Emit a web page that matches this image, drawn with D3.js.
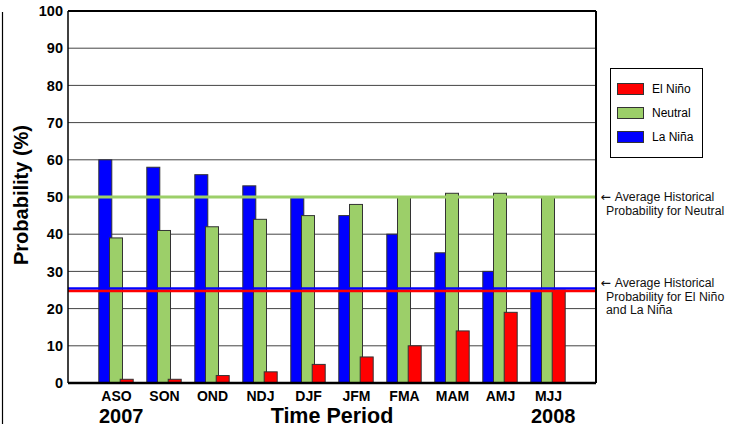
<!DOCTYPE html>
<html>
<head>
<meta charset="utf-8">
<script src="https://cdn.jsdelivr.net/npm/d3@7"></script>
<style>
  body { margin: 0; background: #fff; }
  svg { display: block; font-family: "Liberation Sans", Arial, sans-serif; }
</style>
</head>
<body>
<div id="chart"></div>
<script>
// datos
const periods = ["ASO", "SON", "OND", "NDJ", "DJF", "JFM", "FMA", "MAM", "AMJ", "MJJ"];
const laNina  = [60, 58, 56, 53, 50, 45, 40, 35, 30, 25];
const neutral = [39, 41, 42, 44, 45, 48, 50, 51, 51, 50];
const elNino  = [1, 1, 2, 3, 5, 7, 10, 14, 19, 25];
const yTicks  = [0, 10, 20, 30, 40, 50, 60, 70, 80, 90, 100];
const seriesNames = ["La Niña", "Neutral", "El Niño"];
const legendOrder = ["El Niño", "Neutral", "La Niña"];
const histNeutral = 50;
const histEnso = 25;

const colors = { "La Niña": "#0000ff", "Neutral": "#9ccf69", "El Niño": "#ff0000" };
const seriesValues = { "La Niña": laNina, "Neutral": neutral, "El Niño": elNino };

const W = 739, H = 427;
const plotL = 68, plotR = 596, plotT = 11, plotB = 383;

const svg = d3.select("#chart").append("svg")
    .attr("width", W).attr("height", H);

// escalas
const x = d3.scalePoint().domain(periods).range([plotL, plotR]).padding(1);
const y = d3.scaleLinear().domain([0, 100]).range([plotB, plotT]);

// marco cortado a la izquierda
svg.append("line")
    .attr("x1", 2.5).attr("x2", 2.5).attr("y1", 12).attr("y2", 424)
    .attr("stroke", "#000").attr("stroke-width", 1.2);

// rejilla
svg.append("g")
    .selectAll("line")
    .data(yTicks.filter(d => d > 0 && d < 100))
    .enter().append("line")
    .attr("x1", plotL).attr("x2", plotR)
    .attr("y1", d => y(d)).attr("y2", d => y(d))
    .attr("stroke", "#444").attr("stroke-width", 1);

// barras
const barW = 13, step = 10.7;
seriesNames.forEach((name, k) => {
    svg.append("g")
        .selectAll("rect")
        .data(periods.map((p, i) => ({ p: p, v: seriesValues[name][i] })))
        .enter().append("rect")
        .attr("x", d => x(d.p) + (k - 1) * step - barW / 2)
        .attr("y", d => y(d.v))
        .attr("width", barW)
        .attr("height", d => y(0) - y(d.v))
        .attr("fill", colors[name])
        .attr("stroke", "#333")
        .attr("stroke-width", 1);
});

// lineas historicas
svg.append("line")
    .attr("x1", plotL).attr("x2", plotR)
    .attr("y1", y(histNeutral)).attr("y2", y(histNeutral))
    .attr("stroke", colors["Neutral"]).attr("stroke-width", 3);
svg.append("line")
    .attr("x1", plotL).attr("x2", plotR)
    .attr("y1", y(histEnso) - 1.5).attr("y2", y(histEnso) - 1.5)
    .attr("stroke", colors["La Niña"]).attr("stroke-width", 2.5);
svg.append("line")
    .attr("x1", plotL).attr("x2", plotR)
    .attr("y1", y(histEnso) + 1).attr("y2", y(histEnso) + 1)
    .attr("stroke", colors["El Niño"]).attr("stroke-width", 2.5);

// bordes del area
svg.append("line").attr("x1", plotL).attr("x2", plotR).attr("y1", plotT).attr("y2", plotT)
    .attr("stroke", "#000").attr("stroke-width", 2);
svg.append("line").attr("x1", plotR).attr("x2", plotR).attr("y1", plotT).attr("y2", plotB)
    .attr("stroke", "#000").attr("stroke-width", 2);
svg.append("line").attr("x1", plotL).attr("x2", plotL).attr("y1", plotT).attr("y2", plotB)
    .attr("stroke", "#000").attr("stroke-width", 1.5);

// eje X
const xAxis = svg.append("g")
    .attr("transform", `translate(0,${plotB})`)
    .call(d3.axisBottom(x).tickSize(0).tickPadding(8));
xAxis.select(".domain").attr("stroke", "#000").attr("stroke-width", 2.5)
    .attr("d", `M${plotL},0H${plotR}`);
xAxis.selectAll("text")
    .attr("font-size", 14).attr("font-weight", "bold").attr("fill", "#000")
    .attr("font-family", "Liberation Sans, Arial, sans-serif");

// eje Y
const yAxis = svg.append("g")
    .attr("transform", `translate(${plotL},0)`)
    .call(d3.axisLeft(y).tickValues(yTicks).tickSize(0).tickPadding(5));
yAxis.select(".domain").remove();
yAxis.selectAll("text")
    .attr("font-size", 14.5).attr("font-weight", "bold").attr("fill", "#000")
    .attr("font-family", "Liberation Sans, Arial, sans-serif");

// titulos
svg.append("text")
    .attr("transform", `translate(28,195) rotate(-90)`)
    .attr("text-anchor", "middle")
    .attr("font-size", 20).attr("font-weight", "bold")
    .text("Probability (%)");

svg.append("text")
    .attr("x", 332).attr("y", 423)
    .attr("text-anchor", "middle")
    .attr("font-size", 21.5).attr("font-weight", "bold")
    .text("Time Period");

svg.append("text")
    .attr("x", 99).attr("y", 423)
    .attr("font-size", 20).attr("font-weight", "bold")
    .text("2007");
svg.append("text")
    .attr("x", 531).attr("y", 423)
    .attr("font-size", 20).attr("font-weight", "bold")
    .text("2008");

// leyenda
const legend = svg.append("g");
legend.append("rect")
    .attr("x", 610.5).attr("y", 68.5).attr("width", 92).attr("height", 89)
    .attr("fill", "#fff").attr("stroke", "#000").attr("stroke-width", 1);
legendOrder.forEach((name, i) => {
    const cy = 89 + i * 24;
    legend.append("rect")
        .attr("x", 617.5).attr("y", cy - 5.5).attr("width", 26).attr("height", 11)
        .attr("fill", colors[name]).attr("stroke", "#333").attr("stroke-width", 1);
    legend.append("text")
        .attr("x", 652).attr("y", cy)
        .attr("dy", "0.35em")
        .attr("font-size", 12)
        .text(name);
});

// notas a la derecha
const notes = [
    { y: y(histNeutral), lines: ["Average Historical", "Probability for Neutral"] },
    { y: y(histEnso) - 7, lines: ["Average Historical", "Probability for El Niño", "and La Niña"] }
];
notes.forEach(n => {
    n.lines.forEach((t, j) => {
        const txt = svg.append("text")
            .attr("x", j === 0 ? 600.5 : 606)
            .attr("y", n.y + j * 13.5)
            .attr("dy", "0.35em")
            .attr("font-size", 12.3)
            .attr("fill", "#111");
        if (j === 0) {
            txt.append("tspan").attr("font-family", "DejaVu Sans").text("\u2190 ");
        }
        txt.append("tspan").text(t);
    });
});
</script>
</body>
</html>
